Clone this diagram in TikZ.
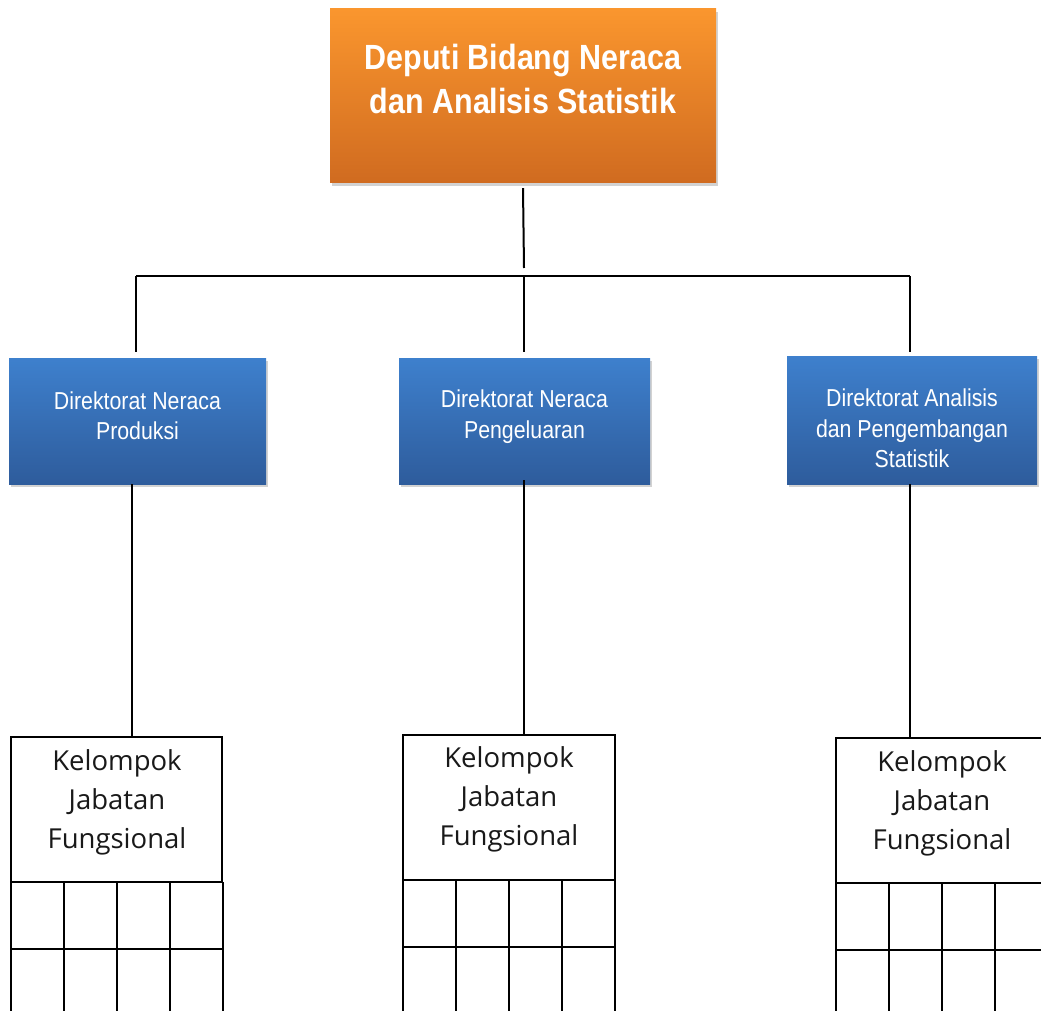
\documentclass[tikz,border=0pt]{standalone}
\usepackage{fontspec}
\setmainfont{Liberation Sans}
\newfontfamily\narrowfont[FakeStretch=0.87]{Liberation Sans}
\newfontfamily\grpfont{Open Sans}
\usetikzlibrary{shadows}
\definecolor{orgTop}{HTML}{FA962E}
\definecolor{orgBot}{HTML}{D06B20}
\definecolor{bluTop}{HTML}{3E80CD}
\definecolor{bluBot}{HTML}{2E5C9C}
\tikzset{
  headbox/.style={rectangle, inner sep=0pt, top color=orgTop, bottom color=orgBot,
    drop shadow={opacity=0.35, shadow xshift=2pt, shadow yshift=-3pt}},
  dirbox/.style={rectangle, inner sep=0pt, top color=bluTop, bottom color=bluBot,
    drop shadow={opacity=0.35, shadow xshift=2pt, shadow yshift=-3pt}},
  headtext/.style={text=white, font=\narrowfont\fontsize{35}{44}\selectfont\bfseries, align=center, inner sep=0pt},
  dirtext/.style={text=white, font=\narrowfont\fontsize{24.5}{30.5}\selectfont, align=center, inner sep=0pt},
  grptext/.style={text=black!90, font=\grpfont\fontsize{27.5}{39}\selectfont, align=center, inner sep=0pt},
  grpbox/.style={rectangle, draw=black, line width=2pt, inner sep=0pt},
  conn/.style={draw=black, line width=2pt},
  gridline/.style={draw=black, line width=2pt},
}
\begin{document}
\begin{tikzpicture}[x=1pt,y=-1pt]
\useasboundingbox (0,0) rectangle (1041,1011);
\clip (0,0) rectangle (1041,1011);
\fill[white] (0,0) rectangle (1041,1011);

% head
\node[headbox, minimum width=386pt, minimum height=174pt] (head) at (523,96) {};
\node[headtext] (headt) at (523,79) {Deputi Bidang Neraca\\dan Analisis Statistik};

% directorates
\node[dirbox, minimum width=257pt, minimum height=126pt] (d1) at (137.5,421) {};
\node[dirbox, minimum width=251pt, minimum height=126pt] (d2) at (524.5,421) {};
\node[dirbox, minimum width=250pt, minimum height=128pt] (d3) at (912,420) {};
\node[dirtext] (d1t) at (137.5,415.5) {Direktorat Neraca\\Produksi};
\node[dirtext] (d2t) at (524.5,416.5) {Direktorat Neraca\\Pengeluaran};
\node[dirtext] (d3t) at (912,428.5) {Direktorat Analisis\\dan Pengembangan\\Statistik};

% bus
\coordinate (busTop) at (524,268);
\coordinate (busL) at (136,276);
\coordinate (busM) at (524,276);
\coordinate (busR) at (910,276);
\draw[conn] ([yshift=-5pt]head.south) -- (busTop);
\draw[conn] (busL) -- (busR);
\draw[conn] (busL) -- (136,352);
\draw[conn] (busM) -- (524,352);
\draw[conn] (busR) -- (910,352);

% group boxes (upper part)
\node[grpbox, minimum width=211pt, minimum height=145pt] (g1) at (116.5,809.5) {};
\node[grpbox, minimum width=212pt, minimum height=145pt] (g2) at (509,807.5) {};
\node[grpbox, minimum width=212pt, minimum height=145pt] (g3) at (942,810.5) {};
\node[grptext] (g1t) at (117,802) {Kelompok\\Jabatan\\Fungsional};
\node[grptext] (g2t) at (509,799) {Kelompok\\Jabatan\\Fungsional};
\node[grptext] (g3t) at (942,803) {Kelompok\\Jabatan\\Fungsional};

% connectors to groups
\draw[conn] (d1.south -| 132,0) -- (g1.north -| 132,0);
\draw[conn] (524,480) -- (g2.north -| 524,0);
\draw[conn] (d3.south -| 910,0) -- (g3.north -| 910,0);

% grids
\foreach \xa/\w/\yt in {11/53/882, 403/53/880, 836/53/883}{
  \draw[gridline] (\xa,\yt) -- (\xa,1020);
  \draw[gridline] (\xa+4*\w,\yt) -- (\xa+4*\w,1020);
  \foreach \i in {1,2,3}{\draw[gridline] (\xa+\i*\w,\yt) -- (\xa+\i*\w,1020);}
  \draw[gridline] (\xa,\yt+67) -- (\xa+4*\w,\yt+67);
}
\end{tikzpicture}
\end{document}
